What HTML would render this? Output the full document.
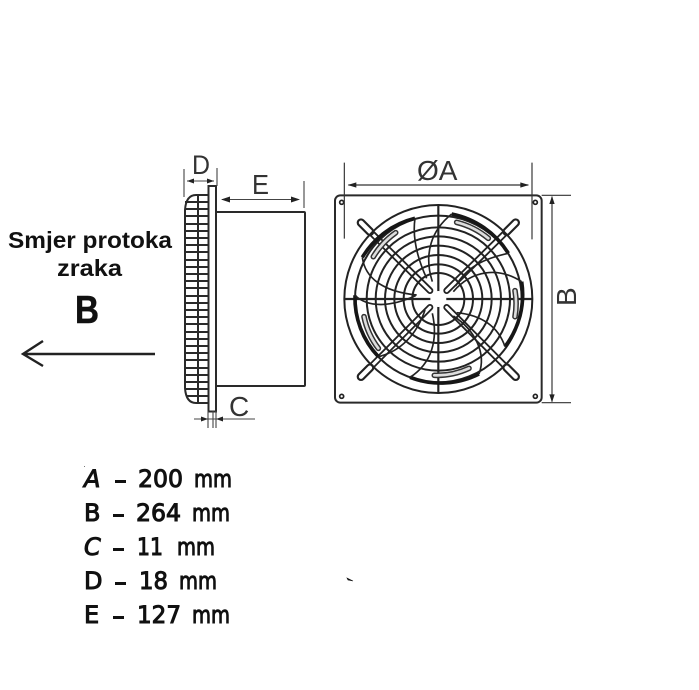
<!DOCTYPE html>
<html>
<head>
<meta charset="utf-8">
<style>
html,body{margin:0;padding:0;background:#fff;width:699px;height:690px;overflow:hidden}
svg{display:block}
</style>
</head>
<body>
<svg width="699" height="690" viewBox="0 0 699 690" xmlns="http://www.w3.org/2000/svg">
<rect width="699" height="690" fill="#fff"/>

<!-- Flow label -->
<g font-family="'Liberation Sans',sans-serif" font-weight="700" fill="#111">
<text x="8" y="248" font-size="23" textLength="164" lengthAdjust="spacingAndGlyphs">Smjer protoka</text>
<text x="57" y="276" font-size="23" textLength="65" lengthAdjust="spacingAndGlyphs">zraka</text>
<text x="75" y="323" font-size="39" textLength="24" lengthAdjust="spacingAndGlyphs" stroke="#111" stroke-width=".5">B</text>
</g>
<path d="M155 354H23M43 341L23 354L43 366" fill="none" stroke="#222" stroke-width="2.400"/>

<!-- Side view -->
<g fill="none" stroke="#2a2a2a" stroke-width="2">
<path d="M216 212H304Q305 212 305 213V385Q305 386 304 386H216"/>
<rect x="208.500" y="186" width="7.500" height="225.500"/>
<path d="M208 195H196Q186 195 185 210V388Q186 403 196 403H208"/>
<path d="M198 195V403"/>
<path d="M185 202H208M185 209H208M185 216H208M185 224H208M185 231H208M185 238H208M185 245H208M185 252H208M185 260H208M185 267H208M185 274H208M185 281H208M185 288H208M185 296H208M185 303H208M185 310H208M185 317H208M185 324H208M185 332H208M185 339H208M185 346H208M185 353H208M185 360H208M185 368H208M185 375H208M185 382H208M185 389H208M186 396H208"/>
<!-- D dim -->
<path stroke-width="1.100" stroke="#444" d="M184 169V197M217 168V186M187 181H214"/>
<!-- E dim -->
<path stroke-width="1.100" stroke="#444" d="M222 199.500H298M304 181V208"/>
<!-- C dim -->
<path stroke-width="1.100" stroke="#444" d="M194 419H255M208 411V428M213 411V428M216 411V428"/>
</g>
<g fill="#222">
<path d="M187 181l7-2.500v5zM214 181l-7-2.500v5z"/>
<path d="M221 199.500l9-3v6zM300 199.500l-9-3v6z"/>
<path d="M208 419l-7-2.500v5zM216 419l7-2.500v5z"/>
</g>
<g font-family="'Liberation Sans',sans-serif" fill="#333">
<text x="192" y="174" font-size="27" textLength="18" lengthAdjust="spacingAndGlyphs">D</text>
<text x="252" y="194" font-size="28" textLength="17" lengthAdjust="spacingAndGlyphs">E</text>
<text x="229" y="416" font-size="28">C</text>
<text x="417" y="180" font-size="28">ØA</text>
<text x="576" y="306" font-size="28" transform="rotate(-90 576 306)">B</text>
</g>

<!-- Front view, coordinates in zoom space (3x) -->
<g transform="translate(325 150) scale(.33333)" fill="none" stroke="#222">
<rect x="30" y="136" width="620" height="622" rx="16" stroke-width="6" stroke="#2a2a2a"/>
<g stroke-width="5">
<circle cx="50" cy="157" r="6"/><circle cx="631" cy="157" r="6"/><circle cx="50" cy="739" r="6"/><circle cx="631" cy="739" r="6"/>
</g>
<!-- dimensions -->
<path stroke-width="3.500" stroke="#333" d="M58 38V266M621 38V268M70 105H610M650 136H738M650 758H738M681 140V755"/>
<path fill="#222" stroke="none" d="M68 105l26-8v16zM612 105l-26-8v16zM681 138l-8 24h16zM681 757l-8-24h16z"/>

<!-- struts -->
<g stroke-linecap="round">
<path d="M108 218L315 422M572 218L365 422M108 680L315 472M572 680L365 472" stroke="#222" stroke-width="20"/>
<path d="M108 218L315 422M572 218L365 422M108 680L315 472M572 680L365 472" stroke="#fff" stroke-width="9"/>
<path d="M108 218L135 245M572 218L545 245M108 680L135 653M572 680L545 653" stroke="#222" stroke-width="26"/>
<path d="M108 218L135 245M572 218L545 245M108 680L135 653M572 680L545 653" stroke="#fff" stroke-width="13"/>
</g>

<!-- guard rings -->
<g stroke-width="6">
<circle cx="340" cy="447" r="282"/>
<circle cx="340" cy="447" r="250"/>
<circle cx="340" cy="447" r="215"/>
<circle cx="340" cy="447" r="188"/>
<circle cx="340" cy="447" r="160"/>
<circle cx="340" cy="447" r="132"/>
<circle cx="340" cy="447" r="104"/>
<circle cx="340" cy="447" r="78"/>
</g>
<path stroke-width="6.500" d="M340 165V729M58 447H622"/>

<!-- blades -->
<g stroke-width="11" stroke="#161616">
<path d="M270 205A256 256 0 0 0 112 322"/>
<path d="M380 192A258 258 0 0 1 550 310"/>
<path d="M590 395A256 256 0 0 1 540 590"/>
<path d="M255 682A256 256 0 0 0 462 672"/>
<path d="M90 436A256 256 0 0 0 160 620"/>
</g>
<g stroke-width="5">
<path d="M270 205C262 260 275 320 305 385"/>
<path d="M112 322C120 385 175 425 275 435"/>
<path d="M380 192C320 240 295 310 322 395"/>
<path d="M550 310C480 325 425 350 392 408"/>
<path d="M590 395C520 350 440 360 385 425"/>
<path d="M540 590C520 530 470 495 395 488"/>
<path d="M462 672C485 610 450 540 385 498"/>
<path d="M255 682C320 640 340 570 322 490"/>
<path d="M160 620C225 605 275 555 300 480"/>
<path d="M90 436C130 475 200 470 272 437"/>
</g>

<!-- slots -->
<g stroke-linecap="round">
<g stroke="#333" stroke-width="17">
<path d="M145 320A238 238 0 0 1 212 248"/>
<path d="M395 217A238 238 0 0 1 490 265"/>
<path d="M570 422A232 232 0 0 1 570 500"/>
<path d="M117 500A232 232 0 0 0 160 595"/>
<path d="M328 676A230 230 0 0 0 432 655"/>
</g>
<g stroke="#ddd" stroke-width="8">
<path d="M145 320A238 238 0 0 1 212 248"/>
<path d="M395 217A238 238 0 0 1 490 265"/>
<path d="M570 422A232 232 0 0 1 570 500"/>
<path d="M117 500A232 232 0 0 0 160 595"/>
<path d="M328 676A230 230 0 0 0 432 655"/>
</g>
</g>

<!-- hub -->
<circle cx="340" cy="447" r="24" fill="#fff" stroke="none"/>
</g>

<!-- dimension list -->
<g font-family="'DejaVu Sans',sans-serif" font-size="24" fill="#111" stroke="#111" stroke-width="1">
<text x="84" y="487" font-style="italic">A</text>
<rect x="115" y="480" width="11" height="3" stroke="none"/>
<text x="138" y="487" textLength="45" lengthAdjust="spacingAndGlyphs">200</text>
<text x="194" y="487" textLength="38" lengthAdjust="spacingAndGlyphs">mm</text>

<text x="84" y="521">B</text>
<rect x="113" y="514" width="11" height="3" stroke="none"/>
<text x="136" y="521" textLength="45" lengthAdjust="spacingAndGlyphs">264</text>
<text x="192" y="521" textLength="38" lengthAdjust="spacingAndGlyphs">mm</text>

<text x="84" y="555" font-style="italic">C</text>
<rect x="113" y="548" width="11" height="3" stroke="none"/>
<text x="137" y="555" textLength="26" lengthAdjust="spacingAndGlyphs">11</text>
<text x="177" y="555" textLength="38" lengthAdjust="spacingAndGlyphs">mm</text>

<text x="84" y="589">D</text>
<rect x="115" y="582" width="11" height="3" stroke="none"/>
<text x="139" y="589" textLength="29" lengthAdjust="spacingAndGlyphs">18</text>
<text x="179" y="589" textLength="38" lengthAdjust="spacingAndGlyphs">mm</text>

<text x="84" y="623">E</text>
<rect x="113" y="616" width="11" height="3" stroke="none"/>
<text x="137" y="623" textLength="44" lengthAdjust="spacingAndGlyphs">127</text>
<text x="192" y="623" textLength="38" lengthAdjust="spacingAndGlyphs">mm</text>
</g>
<path d="M347 578l6 3-5-1z" fill="#111" stroke="#111" stroke-width=".6"/>
<rect x="84" y="466" width="1" height="1" fill="#777"/>
</svg>
</body>
</html>
